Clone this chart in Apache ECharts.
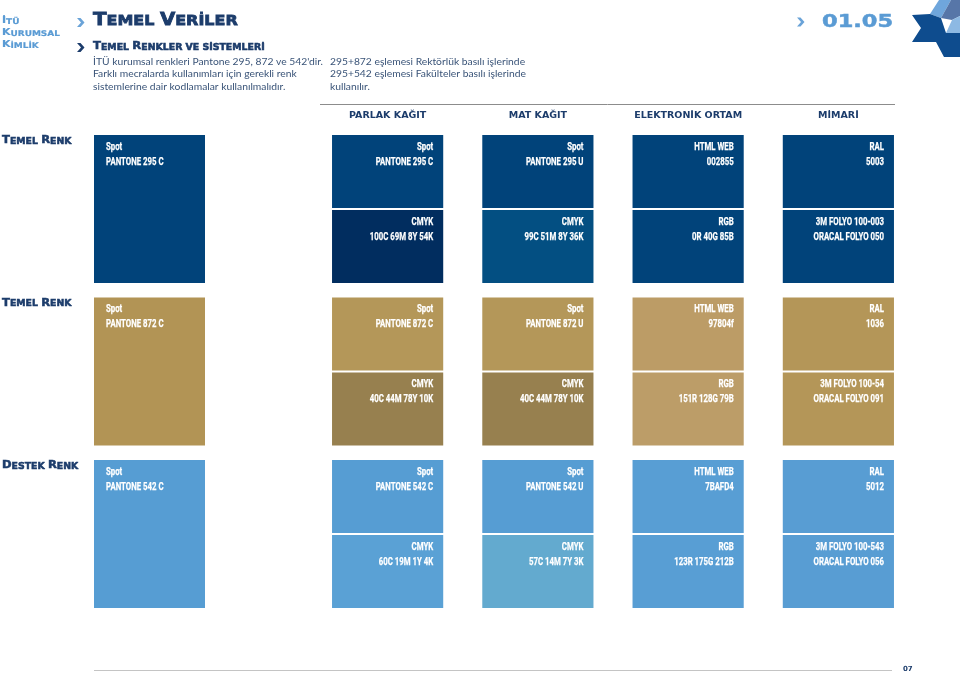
<!DOCTYPE html>
<html>
<head>
<meta charset="utf-8">
<script src="https://cdn.jsdelivr.net/npm/echarts@6/dist/echarts.min.js"></script>
<style>
html, body { margin: 0; padding: 0; background: #fff; }
#colors { width: 960px; height: 674px; }
</style>
</head>
<body>
<div id="colors"></div>
<script>
// ortamlar (sütunlar)
var columns = ['PARLAK KAĞIT', 'MAT KAĞIT', 'ELEKTRONİK ORTAM', 'MİMARİ']
// satırlar
var rowNames = ['Temel Renk', 'Temel Renk', 'Destek Renk']
var spotCodes = ['PANTONE 295 C', 'PANTONE 872 C', 'PANTONE 542 C']
var spotColors = ['#01437a', '#b29455', '#569dd3']
// üst kutular
var topTitles = ['Spot', 'Spot', 'HTML WEB', 'RAL']
var topCodes = [
  ['PANTONE 295 C', 'PANTONE 295 U', '002855', '5003'],
  ['PANTONE 872 C', 'PANTONE 872 U', '97804f', '1036'],
  ['PANTONE 542 C', 'PANTONE 542 U', '7BAFD4', '5012']
]
var topColors = [
  ['#01437a', '#01437a', '#01437a', '#01437a'],
  ['#b49759', '#b49759', '#bc9c66', '#b49658'],
  ['#569dd3', '#569dd3', '#589ed4', '#589dd3']
]
// alt kutular
var bottomCodes = [
  [['CMYK', '100C 69M 8Y 54K'], ['CMYK', '99C 51M 8Y 36K'], ['RGB', '0R 40G 85B'], ['3M FOLYO 100-003', 'ORACAL FOLYO 050']],
  [['CMYK', '40C 44M 78Y 10K'], ['CMYK', '40C 44M 78Y 10K'], ['RGB', '151R 128G 79B'], ['3M FOLYO 100-54', 'ORACAL FOLYO 091']],
  [['CMYK', '60C 19M 1Y 4K'], ['CMYK', '57C 14M 7Y 3K'], ['RGB', '123R 175G 212B'], ['3M FOLYO 100-543', 'ORACAL FOLYO 056']]
]
var bottomColors = [
  ['#012d5f', '#034f82', '#01437a', '#01437a'],
  ['#97804f', '#97804f', '#bc9d68', '#b49658'],
  ['#5aa1d5', '#63aacf', '#589ed4', '#589dd3']
]

var navy = '#1c3c6b'
var lightBlue = '#5a9bd4'
var swatchFont = 'Roboto'
var headFont = 'DejaVu Sans'

// küçük büyük harf (small caps) için rich metin
function smallCaps(str) {
  return str.split(' ').map(function(word) {
    var first = word.charAt(0)
    var rest = word.slice(1).toLocaleUpperCase('tr')
    if (first === first.toLocaleUpperCase('tr') && first !== first.toLocaleLowerCase('tr')) {
      return '{b|' + first + '}' + (rest ? '{s|' + rest + '}' : '')
    }
    return '{s|' + word.toLocaleUpperCase('tr') + '}'
  }).join('{s| }')
}
function capsRich(big, small, color, lh, weight) {
  lh = lh || big
  var lw = weight === undefined ? 0.5 : weight
  return {
    b: { fontFamily: headFont, fontWeight: 'bold', fontSize: big, lineHeight: lh, fill: color, stroke: color, lineWidth: lw, verticalAlign: 'bottom' },
    s: { fontFamily: headFont, fontWeight: 'bold', fontSize: small, lineHeight: lh, fill: color, stroke: color, lineWidth: lw, verticalAlign: 'bottom' }
  }
}

var spotData = []
for (var r = 0; r < rowNames.length; r++) {
  spotData.push([0, r])
}
var cellData = []
for (var r2 = 0; r2 < rowNames.length; r2++) {
  for (var c = 0; c < columns.length; c++) {
    cellData.push([c, r2, 0])
    cellData.push([c, r2, 1])
  }
}

function swatchText(x, y, text, align) {
  return {
    type: 'text', x: x, y: y, scaleX: 0.71,
    style: {
      text: text, fill: '#fff', stroke: '#fff', lineWidth: 0.25, fontFamily: swatchFont, fontWeight: 'bold',
      fontSize: 11, lineHeight: 15, align: align, verticalAlign: 'top', textAlign: align, textVerticalAlign: 'top'
    }
  }
}

function capsText(x, y, text, rich, scaleX, vAlign) {
  return {
    type: 'text', x: x, y: y, scaleX: scaleX,
    style: {
      text: text, rich: rich, fontFamily: headFont, fontWeight: 'bold',
      align: 'left', verticalAlign: vAlign, textAlign: 'left', textVerticalAlign: vAlign
    }
  }
}

function renderSpot(params, api) {
  var row = api.value(1)
  var pt = api.coord([api.value(0), row])
  var size = api.size([1, 1])
  var w = size[0] * 0.74
  var h = size[1] * 0.911
  var x = pt[0] - w / 2
  var y = pt[1] - h / 2
  return {
    type: 'group',
    children: [
      { type: 'rect', shape: { x: x, y: y, width: w, height: h }, style: { fill: spotColors[row] } },
      swatchText(x + 12, y + 4.5, 'Spot\n' + spotCodes[row], 'left'),
      capsText(params.coordSys.x - 72.5, y + 6, smallCaps(rowNames[row]), capsRich(10.5, 8.5, navy), 1.1, 'middle')
    ]
  }
}

function renderCell(params, api) {
  var col = api.value(0)
  var row = api.value(1)
  var half = api.value(2)
  var pt = api.coord([col, row])
  var size = api.size([1, 1])
  var w = size[0] * 0.74
  var h = size[1] * 0.911
  var hh = (h - 2) / 2
  var x = pt[0] - w / 2
  var y = pt[1] - h / 2 + half * (hh + 2)
  var lines = half === 0 ? [topTitles[col], topCodes[row][col]] : bottomCodes[row][col]
  var color = half === 0 ? topColors[row][col] : bottomColors[row][col]
  return {
    type: 'group',
    children: [
      { type: 'rect', shape: { x: x, y: y, width: w, height: hh }, style: { fill: color } },
      swatchText(x + w - 10, y + 4.5, lines.join('\n'), 'right')
    ]
  }
}

function chevron(x, y, color) {
  return {
    type: 'polygon',
    shape: { points: [[x, y], [x + 3.5, y], [x + 7.5, y + 4.5], [x + 3.5, y + 9], [x, y + 9], [x + 4, y + 4.5]] },
    style: { fill: color }
  }
}

var paragraph1 = [
  "İTÜ kurumsal renkleri Pantone 295, 872 ve 542'dir.",
  'Farklı mecralarda kullanımları için gerekli renk',
  'sistemlerine dair kodlamalar kullanılmalıdır.'
]
var paragraph2 = [
  '295+872 eşlemesi Rektörlük basılı işlerinde',
  '295+542 eşlemesi Fakülteler basılı işlerinde',
  'kullanılır.'
]

function textEl(x, y, text, opts) {
  var style = Object.assign({
    text: text, fill: navy, fontFamily: headFont, fontSize: 10,
    align: 'left', verticalAlign: 'middle', textAlign: 'left', textVerticalAlign: 'middle'
  }, opts || {})
  return { type: 'text', x: x, y: y, style: style }
}
var paraStyle = { fill: '#3a5478', fontFamily: 'Lato', fontSize: 10.3, lineHeight: 12.3, verticalAlign: 'top', textVerticalAlign: 'top' }

var graphics = [
  // sol üst etiket
  capsText(2, 14, smallCaps('İTÜ') + '\n' + smallCaps('Kurumsal') + '\n' + smallCaps('Kimlik'), capsRich(9.5, 7.8, lightBlue, 12, 0.2), 1.15, 'top'),
  chevron(77, 18, '#6aa3d8'),
  chevron(77, 43, navy),
  capsText(93, 29, smallCaps('Temel Veriler'), capsRich(18, 14.5, navy, 18, 0.8), 1.1, 'bottom'),
  capsText(93, 51.5, smallCaps('Temel Renkler ve sistemleri'), capsRich(10, 8, navy), 1.17, 'bottom'),
  textEl(93, 55.5, paragraph1.join('\n'), paraStyle),
  textEl(330, 55.5, paragraph2.join('\n'), paraStyle),
  // bölüm numarası
  chevron(797, 17.5, '#6aa3d8'),
  {
    type: 'text', x: 822, y: 22, scaleX: 1.25,
    style: { text: '01.05', fill: lightBlue, stroke: lightBlue, lineWidth: 0.5, fontFamily: headFont, fontWeight: 'bold', fontSize: 18, align: 'left', verticalAlign: 'middle', textAlign: 'left', textVerticalAlign: 'middle' }
  },
  // logo
  { type: 'polygon', shape: { points: [[930, 14], [939, 0], [951, 0], [941, 18]] }, style: { fill: '#6fa6dc' } },
  { type: 'polygon', shape: { points: [[951, 0], [960, 0], [960, 16], [952, 20], [941, 18]] }, style: { fill: '#5776a8' } },
  { type: 'polygon', shape: { points: [[912, 15], [930, 14], [941, 18], [946, 33], [960, 33], [960, 57], [944, 57], [936, 42], [912, 42], [921, 28]] }, style: { fill: '#0e4c8e' } },
  { type: 'polygon', shape: { points: [[952, 20], [960, 16], [960, 33], [946, 33]] }, style: { fill: '#8db9e3' } },
  // çizgiler
  { type: 'line', shape: { x1: 320, y1: 104.5, x2: 895, y2: 104.5 }, style: { stroke: '#8c8c8c', lineWidth: 1 } },
  { type: 'line', shape: { x1: 94, y1: 670.5, x2: 892, y2: 670.5 }, style: { stroke: '#c4c4c4', lineWidth: 1 } },
  textEl(903, 669.5, '07', { fontWeight: 'bold', fontSize: 7 })
]

var myChart = echarts.init(document.getElementById('colors'))
var option = {
  animation: false,
  grid: [
    { left: 74.5, top: 127.75, width: 150, height: 487.5 },
    { left: 312.5, top: 127.75, width: 601, height: 487.5 }
  ],
  xAxis: [
    { gridIndex: 0, type: 'category', data: ['Spot'], show: false },
    {
      gridIndex: 1, type: 'category', data: columns, position: 'top',
      axisLine: { show: false }, axisTick: { show: false }, splitLine: { show: false },
      axisLabel: { interval: 0, margin: 7, color: navy, fontFamily: headFont, fontWeight: 'bold', fontSize: 9.5 }
    }
  ],
  yAxis: [
    { gridIndex: 0, type: 'category', data: spotCodes, inverse: true, show: false },
    { gridIndex: 1, type: 'category', data: spotCodes, inverse: true, show: false }
  ],
  series: [
    { type: 'custom', xAxisIndex: 0, yAxisIndex: 0, renderItem: renderSpot, data: spotData, silent: true },
    { type: 'custom', xAxisIndex: 1, yAxisIndex: 1, renderItem: renderCell, data: cellData, silent: true }
  ],
  graphic: graphics
}
myChart.setOption(option)
window.addEventListener('resize', function() {
  myChart.resize()
})
</script>
</body>
</html>
